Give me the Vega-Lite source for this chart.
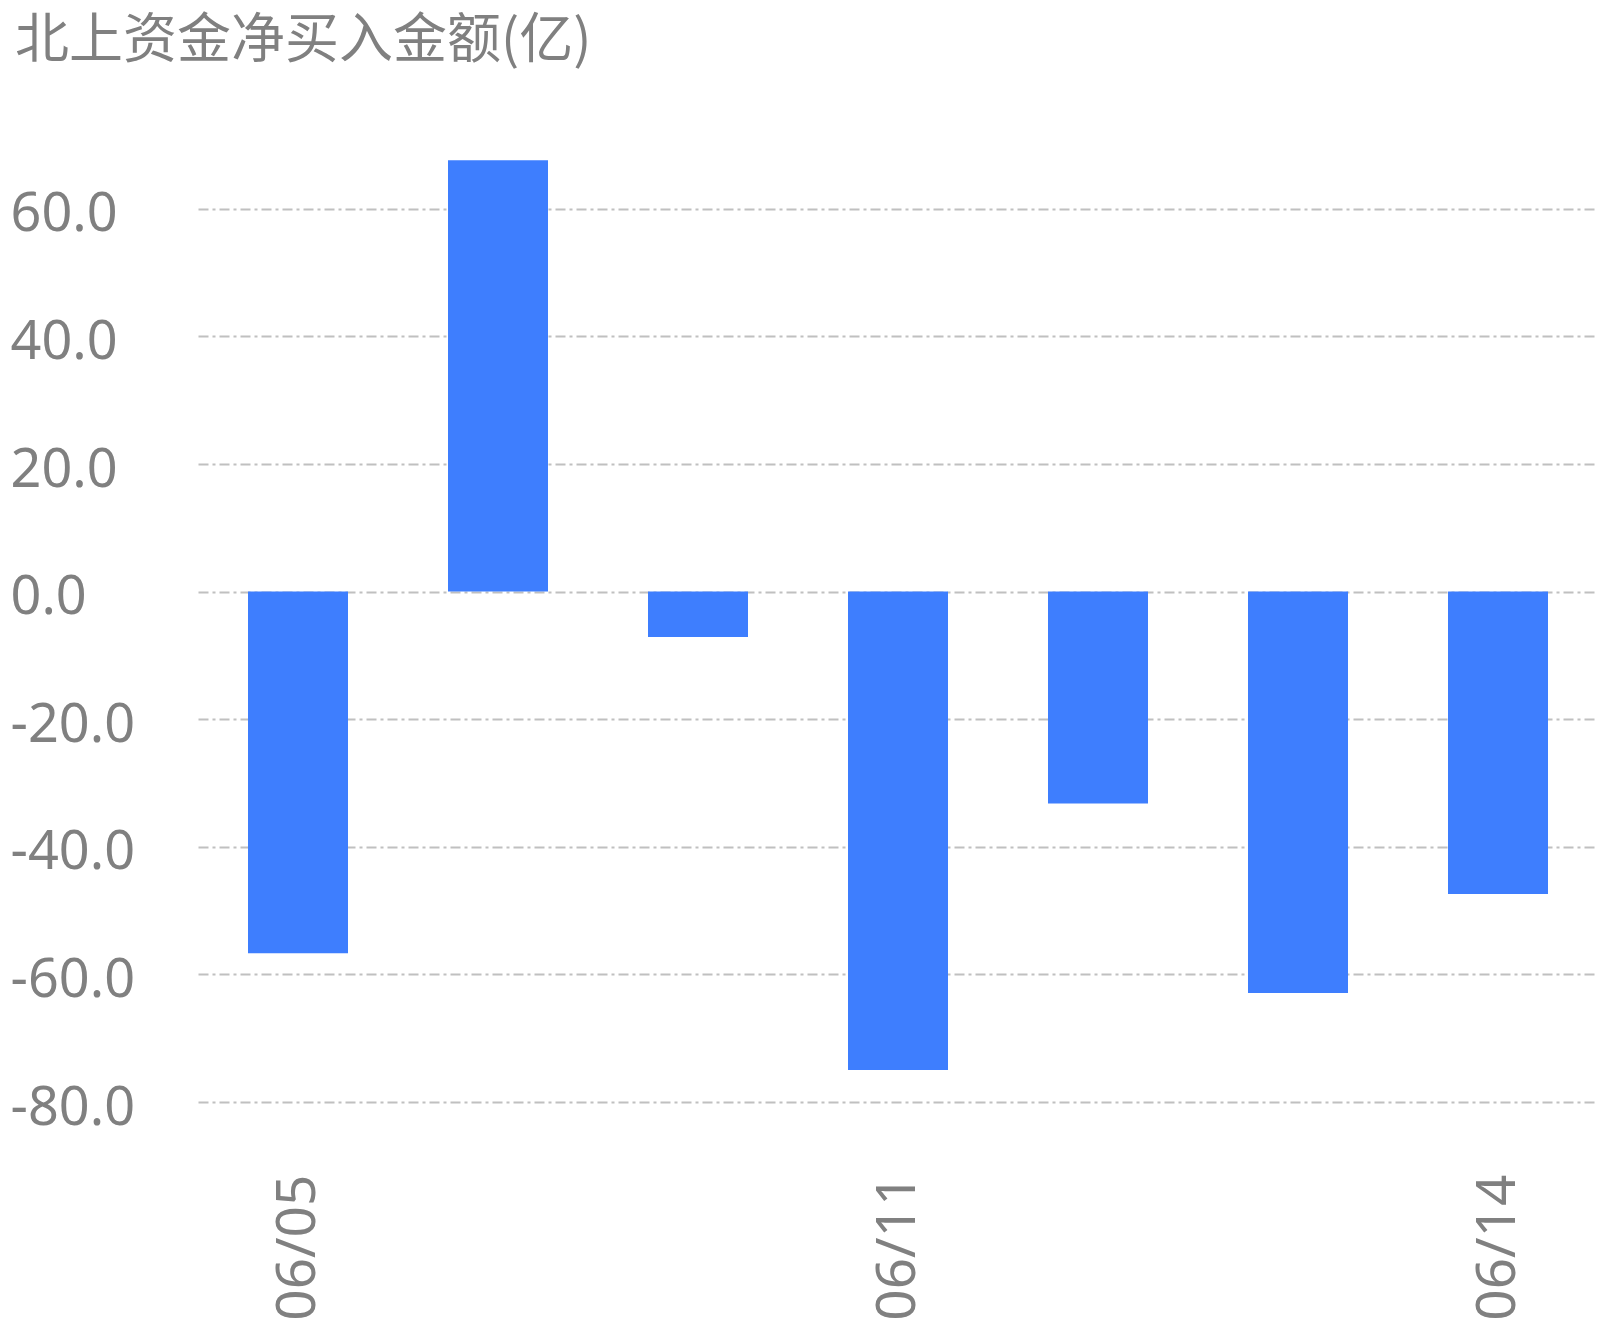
{
  "$schema": "https://vega.github.io/schema/vega-lite/v6.json",
  "autosize": {"type": "none"},
  "width": 1400,
  "height": 957,
  "padding": {"left": 198, "top": 145, "right": 8, "bottom": 228},
  "background": "white",
  "title": {
    "text": "北上资金净买入金额(亿)",
    "anchor": "start",
    "frame": "group",
    "dx": -183,
    "offset": 33,
    "baseline": "alphabetic",
    "font": "Noto Sans CJK SC",
    "fontSize": 54,
    "fontWeight": "normal",
    "color": "#808080"
  },
  "data": {
    "values": [
      {"date": "06/05", "value": -56.7},
      {"date": "06/06", "value": 67.6},
      {"date": "06/07", "value": -7.1},
      {"date": "06/11", "value": -75.0},
      {"date": "06/12", "value": -33.2},
      {"date": "06/13", "value": -62.9},
      {"date": "06/14", "value": -47.4}
    ]
  },
  "mark": {"type": "bar", "color": "#3e7efe"},
  "encoding": {
    "x": {
      "field": "date",
      "type": "ordinal",
      "sort": null,
      "scale": {"paddingInner": 0.5, "paddingOuter": 0.25},
      "axis": {
        "title": null,
        "values": ["06/05", "06/11", "06/14"],
        "labelAngle": 270,
        "labelPadding": 72,
        "labelFont": "Noto Sans",
        "labelFontSize": 55,
        "labelColor": "#808080",
        "domain": false,
        "ticks": false,
        "tickSize": 0,
        "grid": false
      }
    },
    "y": {
      "field": "value",
      "type": "quantitative",
      "scale": {"domain": [-80, 70], "nice": false, "zero": false},
      "axis": {
        "title": null,
        "values": [-80, -60, -40, -20, 0, 20, 40, 60],
        "labelExpr": "replace(format(datum.value, '.1f'), '−', '-')",
        "labelAlign": "left",
        "labelBaseline": "middle",
        "labelOffset": 6,
        "labelPadding": 188,
        "labelFont": "Noto Sans",
        "labelFontSize": 54,
        "labelColor": "#808080",
        "domain": false,
        "ticks": false,
        "tickSize": 0,
        "grid": true,
        "gridColor": "#c0c0c0",
        "gridWidth": 2,
        "gridDash": [10, 4, 3, 4]
      }
    }
  },
  "config": {"view": {"stroke": null}}
}
